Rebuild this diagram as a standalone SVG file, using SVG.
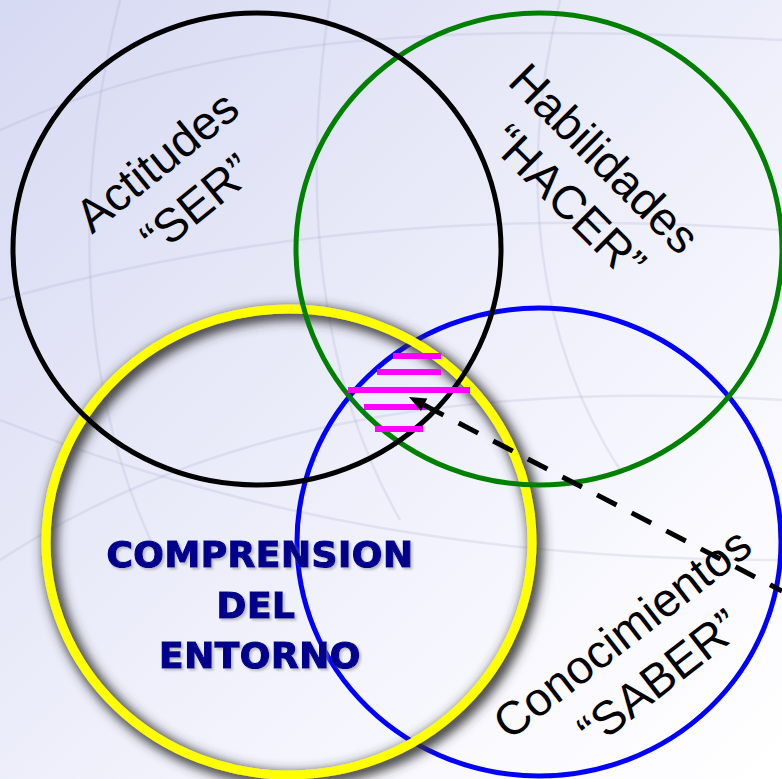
<svg xmlns="http://www.w3.org/2000/svg" width="782" height="779" viewBox="0 0 782 779">
  <defs>
    <linearGradient id="bg" x1="0" y1="0" x2="1" y2="1">
      <stop offset="0" stop-color="#d6d9f2"/>
      <stop offset="0.45" stop-color="#eaecf9"/>
      <stop offset="0.8" stop-color="#fafaff"/>
      <stop offset="1" stop-color="#ffffff"/>
    </linearGradient>
    <filter id="shadow" x="-10%" y="-10%" width="120%" height="120%">
      <feMorphology in="SourceAlpha" operator="dilate" radius="2" result="d"/>
      <feGaussianBlur in="d" stdDeviation="6" result="b"/>
      <feOffset in="b" dx="4" dy="4" result="o"/>
      <feFlood flood-color="#333333" flood-opacity="1"/>
      <feComposite in2="o" operator="in" result="s"/>
      <feMerge><feMergeNode in="s"/><feMergeNode in="SourceGraphic"/></feMerge>
    </filter>
    <filter id="tshadow" x="-5%" y="-20%" width="110%" height="140%">
      <feGaussianBlur in="SourceAlpha" stdDeviation="1" result="b"/>
      <feOffset in="b" dx="2" dy="2" result="o"/>
      <feFlood flood-color="#888888" flood-opacity="0.5"/>
      <feComposite in2="o" operator="in" result="s"/>
      <feMerge><feMergeNode in="s"/><feMergeNode in="SourceGraphic"/></feMerge>
    </filter>
  </defs>
  <style>
    .ring { fill: none; stroke-width: 5; }
    .lbl { font-family: "Liberation Sans", Arial, sans-serif; font-size: 47px; fill: #000; text-anchor: middle; }
    .main { font-family: "DejaVu Sans", "Liberation Sans", sans-serif; font-weight: bold; font-size: 36px; fill: #00008c; stroke: #00008c; stroke-width: 1.2; text-anchor: middle; letter-spacing: 0.5px; }
    .stripe { stroke: #ff00ff; stroke-width: 6; }
    .globe { fill: none; stroke: #9a9cc0; stroke-width: 2.5; opacity: 0.18; }
  </style>

  <rect x="0" y="0" width="782" height="779" fill="url(#bg)"/>
  <g id="background-lines">
    <path class="globe" d="M0,130 C200,40 420,20 782,40"/>
    <path class="globe" d="M0,300 C250,230 500,210 782,230"/>
    <path class="globe" d="M0,560 C200,430 450,380 782,400"/>
    <path class="globe" d="M120,0 C70,200 80,400 160,560"/>
    <path class="globe" d="M330,0 C300,200 320,380 400,520"/>
    <path class="globe" d="M560,0 C520,160 530,330 620,470"/>
    <path class="globe" d="M0,420 C250,520 500,560 782,560"/>
  </g>

  <g id="node-conocimientos">
    <ellipse class="ring" cx="539" cy="542" rx="242" ry="234" stroke="#0000ff"/>
    <text class="lbl" transform="translate(632,646) rotate(-37.8)"><tspan x="0" y="0">Conocimientos</tspan><tspan x="2" y="58">“SABER”</tspan></text>
  </g>

  <g id="node-comprension">
    <ellipse cx="289" cy="542" rx="243" ry="233" fill="none" stroke="#ffff00" stroke-width="9" filter="url(#shadow)"/>
    <text class="main" filter="url(#tshadow)"><tspan x="260" y="567">COMPRENSION</tspan><tspan x="256" y="618">DEL</tspan><tspan x="260" y="668">ENTORNO</tspan></text>
  </g>

  <g id="node-habilidades">
    <ellipse class="ring" cx="539" cy="249" rx="243" ry="236" stroke="#008000"/>
    <text class="lbl" transform="translate(593,170) rotate(45)"><tspan x="0" y="0">Habilidades</tspan><tspan x="5" y="56">“HACER”</tspan></text>
  </g>

  <g id="node-actitudes">
    <ellipse class="ring" cx="257" cy="249" rx="244" ry="236" stroke="#000000"/>
    <text class="lbl" transform="translate(167,174) rotate(-39)"><tspan x="0" y="0">Actitudes</tspan><tspan x="4" y="58">“SER”</tspan></text>
  </g>

  <g id="node-interseccion">
    <line class="stripe" x1="393" y1="356" x2="441" y2="356"/>
    <line class="stripe" x1="377" y1="372" x2="441" y2="372"/>
    <line class="stripe" x1="348" y1="390" x2="470" y2="390"/>
    <line class="stripe" x1="364" y1="407" x2="428" y2="407"/>
    <line class="stripe" x1="375" y1="429" x2="423" y2="429"/>
  </g>

  <g id="connectors">
    <line x1="424" y1="405" x2="782" y2="591" stroke="#000" stroke-width="5" stroke-dasharray="22 17"/>
    <polygon points="409,397 427.3,398.6 420.9,411" fill="#000"/>
  </g>
</svg>
